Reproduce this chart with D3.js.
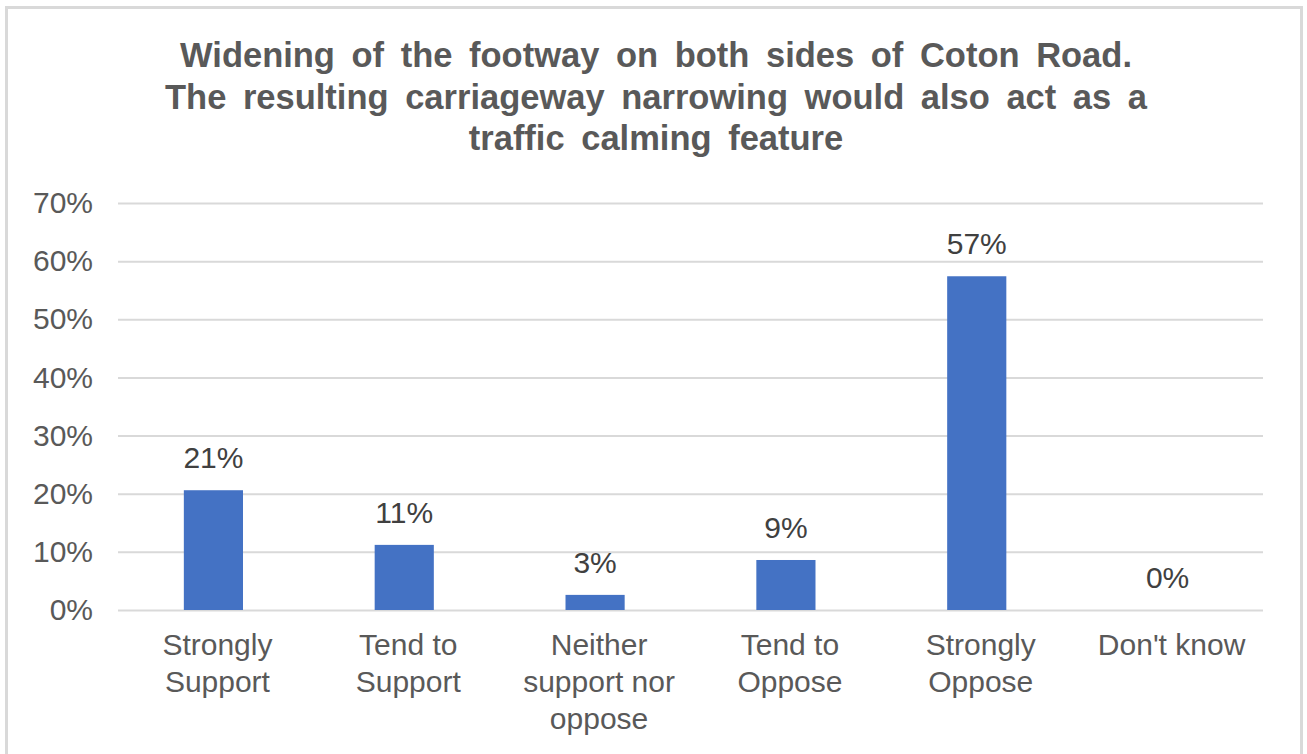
<!DOCTYPE html>
<html>
<head>
<meta charset="utf-8">
<script src="https://cdn.jsdelivr.net/npm/d3@7"></script>
<style>
  html, body { margin: 0; padding: 0; background: #ffffff; }
  svg { display: block; font-family: "Liberation Sans", Arial, sans-serif; }
</style>
</head>
<body>
<svg id="chart" width="1307" height="754"></svg>
<script>
// Survey responses
const categories = ["Strongly Support", "Tend to Support", "Neither support nor oppose", "Tend to Oppose", "Strongly Oppose", "Don't know"];
const categoryLines = [["Strongly", "Support"], ["Tend to", "Support"], ["Neither", "support nor", "oppose"], ["Tend to", "Oppose"], ["Strongly", "Oppose"], ["Don't know"]];
const shares = [0.206, 0.112, 0.026, 0.086, 0.574, 0.0];
const yTicks = [0, 0.1, 0.2, 0.3, 0.4, 0.5, 0.6, 0.7];
const titleLines = [
  "Widening of the footway on both sides of Coton Road.",
  "The resulting carriageway narrowing would also act as a",
  "traffic calming feature"
];

const svg = d3.select("#chart");

// Chart frame
svg.append("rect")
  .attr("x", 6.5).attr("y", 7.5)
  .attr("width", 1295).attr("height", 800)
  .attr("fill", "#ffffff")
  .attr("stroke", "#d9d9d9").attr("stroke-width", 3);

const plot = { left: 118, right: 1263, top: 203, bottom: 610 };

const x = d3.scaleBand()
  .domain(categories)
  .range([plot.left, plot.right])
  .paddingInner(0.69)
  .paddingOuter(0.345);

const y = d3.scaleLinear()
  .domain([0, 0.7])
  .range([plot.bottom, plot.top]);

// Title
svg.append("text")
  .attr("x", 656).attr("y", 67)
  .attr("text-anchor", "middle")
  .attr("font-size", 34.5).attr("font-weight", "bold")
  .attr("fill", "#595959")
  .style("word-spacing", "7px")
  .selectAll("tspan")
  .data(titleLines)
  .join("tspan")
  .attr("x", 656)
  .attr("dy", (d, i) => i === 0 ? 0 : 41.5)
  .text(d => d);

// Gridlines and y tick labels
const yAxis = d3.axisLeft(y)
  .tickValues(yTicks)
  .tickFormat(d3.format(".0%"))
  .tickSize(-(plot.right - plot.left))
  .tickPadding(25);

const gy = svg.append("g")
  .attr("transform", `translate(${plot.left},0)`)
  .call(yAxis);
gy.select(".domain").remove();
gy.selectAll(".tick line").attr("stroke", "#d9d9d9").attr("stroke-width", 2);
gy.selectAll(".tick text")
  .attr("font-family", "Liberation Sans, Arial, sans-serif")
  .attr("font-size", 30)
  .attr("fill", "#595959");

// Bars
svg.append("g")
  .selectAll("rect")
  .data(shares)
  .join("rect")
  .attr("x", (d, i) => x(categories[i]))
  .attr("y", d => y(d))
  .attr("width", x.bandwidth())
  .attr("height", d => y(0) - y(d))
  .attr("fill", "#4472c4");

// Value labels
svg.append("g")
  .selectAll("text")
  .data(shares)
  .join("text")
  .attr("x", (d, i) => x(categories[i]) + x.bandwidth() / 2)
  .attr("y", d => y(d) - 22)
  .attr("text-anchor", "middle")
  .attr("font-size", 30)
  .attr("fill", "#404040")
  .text(d => d3.format(".0%")(d));

// Category labels (centred slightly right of each bar)
const xl = svg.append("g")
  .selectAll("text")
  .data(categories)
  .join("text")
  .attr("text-anchor", "middle")
  .attr("font-size", 30)
  .attr("fill", "#595959");
xl.each(function(c, i) {
  const cx = x(c) + x.bandwidth() / 2 + 4;
  d3.select(this).selectAll("tspan")
    .data(categoryLines[i])
    .join("tspan")
    .attr("x", cx)
    .attr("y", (d, j) => 655 + j * 37)
    .text(d => d);
});
</script>
</body>
</html>
